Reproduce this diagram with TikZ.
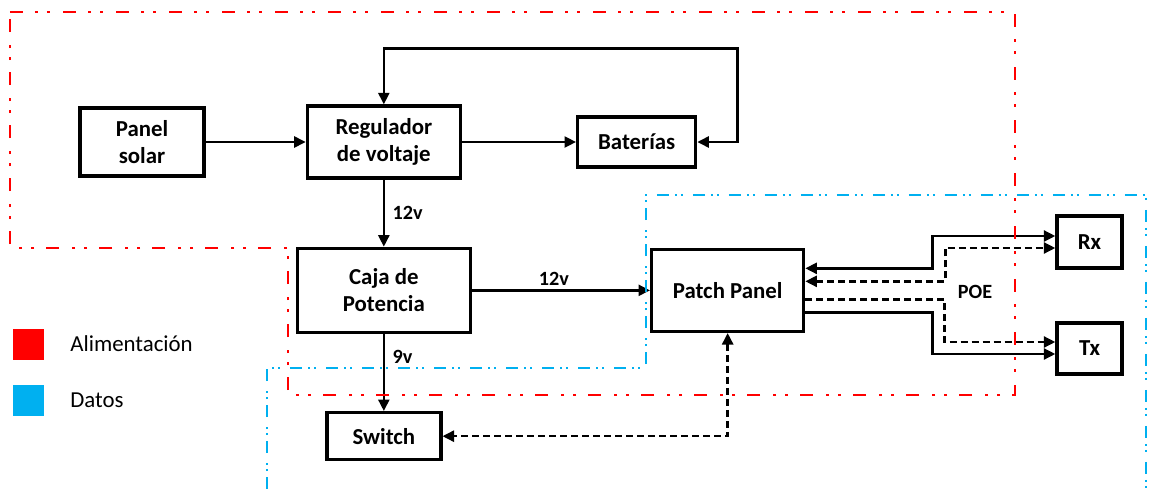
\documentclass[tikz,border=0pt]{standalone}
\usepackage{fontspec}
\setmainfont{Carlito}
\usetikzlibrary{arrows.meta,positioning}
\definecolor{PowerRed}{HTML}{FF0000}
\definecolor{DataBlue}{HTML}{00B0F0}

\begin{document}
\begin{tikzpicture}[>={Triangle[length=2.3mm,width=2.2mm]}]
\tikzset{blk/.style={draw,line width=1.9pt,fill=white,align=center,inner sep=2pt,font=\bfseries\fontsize{13}{15.5}\selectfont},a/.style={line width=1.4pt},d/.style={a,dash pattern=on 1.4mm off .8mm},lbl/.style={font=\bfseries\fontsize{11.5}{13}\selectfont,inner sep=2pt},zr/.style={PowerRed,line width=1.6pt,dash pattern=on 2.6mm off 2.4mm on .6mm off 1.8mm on .6mm off 2.6mm},zb/.style={DataBlue,line width=1pt,dash pattern=on 2.4mm off 1.2mm on .4mm off .8mm on .4mm off 2mm},key/.style={minimum size=.62cm,inner sep=0pt},keytxt/.style={inner sep=0pt,anchor=west,font=\fontsize{13}{15.5}\selectfont}}
\useasboundingbox (0,0) rectangle (23.02,-9.78);
% energia
\node[blk,minimum width=2.48cm,minimum height=1.36cm] (pan) at (2.84,-2.84) {Panel\\solar};
\node[blk,minimum width=3.06cm,minimum height=1.44cm,right=2.0cm of pan] (reg) {Regulador\\de voltaje};
\node[blk,minimum width=2.36cm,minimum height=1cm,right=2.28cm of reg] (bat) {Baterías};
\node[blk,minimum width=3.46cm,minimum height=1.68cm,below=1.34cm of reg] (caja) {Caja de\\Potencia};
\node[blk,minimum width=2.28cm,minimum height=.94cm,below=1.54cm of caja] (sw) {Switch};
% datos
\node[blk,minimum width=3.04cm,minimum height=1.64cm,right=3.56cm of caja] (pp) {Patch Panel};
\node[blk,minimum width=1.3cm,minimum height=1.04cm] (rx) at (21.79,-4.84) {Rx};
\node[blk,minimum width=1.3cm,minimum height=1.02cm] (tx) at (21.79,-6.97) {Tx};
\node[lbl] (poe) at (19.5,-5.84) {POE};

\draw[a,->] (pan) -- (reg);
\draw[a,->] (reg) -- (bat);
\draw[a,<->] (bat.east) -- ++(.8,0) |- ([yshift=1.12cm]reg.north) -- (reg.north);
\draw[a,->] (reg) -- node[lbl,right,xshift=.08cm] {12v} (caja);
\draw[a,->] (caja) -- node[lbl,above,xshift=-.14cm] {12v} (pp);
\draw[a,->] (caja) -- node[lbl,pos=.3,right,xshift=.08cm] {9v} (sw);
\draw[d,<->] (pp.south) |- (sw.east);
\draw[a,<->] ([yshift=.44cm]pp.east) -- ++(2.54,0) |- ([yshift=.12cm]rx.west);
\draw[d,<->] ([yshift=.18cm]pp.east) -- ++(2.8,0) |- ([yshift=-.12cm]rx.west);
\draw[d,->] ([yshift=-.18cm]pp.east) -- ++(2.78,0) |- ([yshift=.13cm]tx.west);
\draw[a,->] ([yshift=-.44cm]pp.east) -- ++(2.54,0) |- ([yshift=-.11cm]tx.west);

% zonas
\draw[zr] (.2,-.24) -- (20.3,-.24) -- (20.3,-7.9) -- (5.76,-7.9) -- (5.76,-4.96) -- (.2,-4.96) -- cycle;
\draw[zb] (5.34,-9.78) -- (5.34,-7.36) -- (12.92,-7.36) -- (12.92,-3.9) -- (22.92,-3.9) -- (22.92,-9.78);

% leyenda
\node[key,fill=PowerRed] (kred) at (.57,-6.88) {};
\node[key,fill=DataBlue] (kblue) at (.57,-8.01) {};
\node[keytxt] (tred) at (1.4,-6.88) {Alimentación};
\node[keytxt] (tblue) at (1.4,-8.01) {Datos};
\end{tikzpicture}
\end{document}
